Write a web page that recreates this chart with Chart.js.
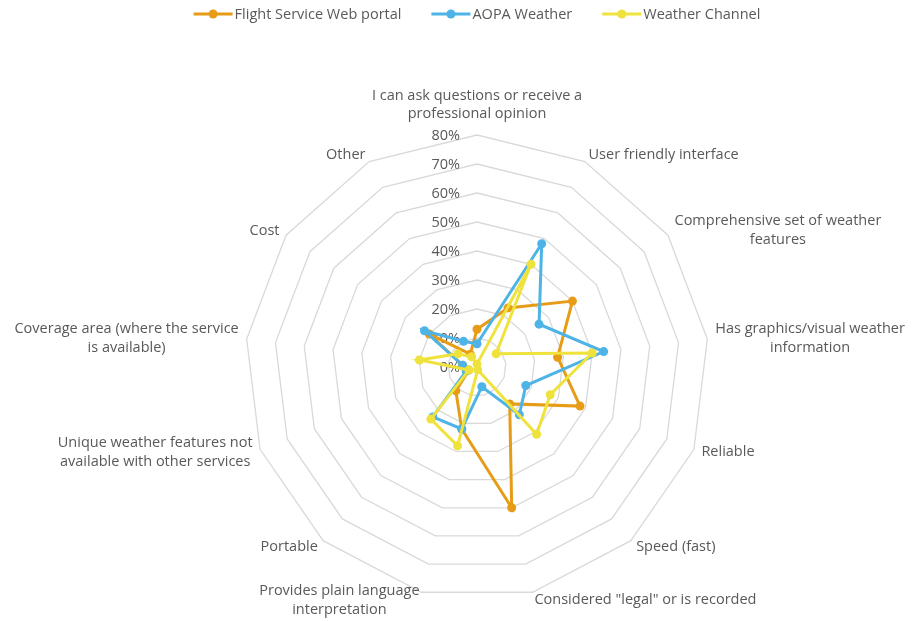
<!DOCTYPE html>
<html>
<head>
<meta charset="utf-8">
<title>Weather service ratings</title>
<script src="https://cdn.jsdelivr.net/npm/chart.js@4.4.0/dist/chart.umd.min.js"></script>
<style>
  html, body { margin: 0; padding: 0; background: #ffffff; }
</style>
</head>
<body>
<canvas id="chart" width="921" height="621"></canvas>
<script>
// axes of the radar (clockwise from the top)
const categories = [
    ['I can ask questions or receive a', 'professional opinion'],
    'User friendly interface',
    ['Comprehensive set of weather', 'features'],
    ['Has graphics/visual weather', 'information'],
    'Reliable',
    'Speed (fast)',
    'Considered "legal" or is recorded',
    ['Provides plain language', 'interpretation'],
    'Portable',
    ['Unique weather features not', 'available with other services'],
    ['Coverage area (where the service', 'is available)'],
    'Cost',
    'Other'
];

// share of respondents
const flightService  = [0.13, 0.23, 0.40, 0.28, 0.38, 0.17, 0.50, 0.22, 0.11, 0.03, 0.05, 0.20, 0.05];
const aopaWeather    = [0.08, 0.48, 0.26, 0.44, 0.18, 0.22, 0.07, 0.22, 0.23, 0.04, 0.05, 0.22, 0.10];
const weatherChannel = [0.01, 0.40, 0.08, 0.40, 0.27, 0.31, 0.01, 0.28, 0.24, 0.03, 0.20, 0.08, 0.04];

const seriesNames = ['Flight Service Web portal', 'AOPA Weather', 'Weather Channel'];
const tickValues = [0, 0.1, 0.2, 0.3, 0.4, 0.5, 0.6, 0.7, 0.8];

const textColor = '#595959';
const fontFamily = "'Open Sans', 'DejaVu Sans', sans-serif";
const fontSize = 14.5;

// tick labels and axis labels, drawn under the series like Excel does
const radarText = {
    id: 'radarText',
    beforeDatasetsDraw(chart) {
        const ctx = chart.ctx;
        const scale = chart.scales.r;
        ctx.save();
        ctx.fillStyle = textColor;
        ctx.font = fontSize + 'px ' + fontFamily;

        // percentage ticks, to the left of the vertical axis
        ctx.textAlign = 'right';
        ctx.textBaseline = 'middle';
        tickValues.forEach(v => {
            const p = scale.getPointPositionForValue(0, v);
            ctx.fillText(Math.round(v * 100) + '%', p.x - 17, p.y + 1);
        });

        // category labels
        const lineH = 19;
        ctx.textAlign = 'center';
        categories.forEach((label, i) => {
            const lines = Array.isArray(label) ? label : [label];
            const p = scale.getPointPositionForValue(i, scale.max);
            const a = i * 2 * Math.PI / categories.length;
            const sin = Math.sin(a), cos = Math.cos(a);
            const blockW = Math.max(...lines.map(t => ctx.measureText(t).width));
            if (i === 0) {
                lines.forEach((t, k) => {
                    ctx.fillText(t, p.x, p.y - 21 - (lines.length - 1 - k) * 18);
                });
                return;
            }
            const xEdge = p.x + sin * 8;
            const yMid = p.y - cos * 8;
            const left = sin > 0 ? xEdge : xEdge - blockW;
            lines.forEach((t, k) => {
                ctx.fillText(t, left + blockW / 2, yMid + (k - (lines.length - 1) / 2) * lineH);
            });
        });
        ctx.restore();
    },
    afterDraw(chart) {
        // legend: line with a dot, then the name
        const ctx = chart.ctx;
        ctx.save();
        ctx.font = fontSize + 'px ' + fontFamily;
        ctx.textBaseline = 'middle';
        ctx.textAlign = 'left';
        const lineLen = 39, textGap = 2, itemGap = 30, y = 14;
        const widths = chart.data.datasets.map(ds => ctx.measureText(ds.label).width);
        let total = 0;
        widths.forEach((w, i) => { total += lineLen + textGap + w + (i < widths.length - 1 ? itemGap : 0); });
        let x = chart.scales.r.xCenter - total / 2;
        chart.data.datasets.forEach((ds, i) => {
            ctx.strokeStyle = ds.borderColor;
            ctx.fillStyle = ds.borderColor;
            ctx.lineWidth = 3;
            ctx.beginPath();
            ctx.moveTo(x, y);
            ctx.lineTo(x + lineLen, y);
            ctx.stroke();
            ctx.beginPath();
            ctx.arc(x + lineLen / 2, y, 4.5, 0, Math.PI * 2);
            ctx.fill();
            ctx.fillStyle = textColor;
            ctx.fillText(ds.label, x + lineLen + textGap, y + 1);
            x += lineLen + textGap + widths[i] + itemGap;
        });
        ctx.restore();
    }
};

function series(label, data, color, order) {
    return {
        label: label,
        data: data,
        borderColor: color,
        backgroundColor: color,
        pointBackgroundColor: color,
        pointBorderColor: color,
        borderWidth: 3,
        pointRadius: 4.5,
        pointBorderWidth: 0,
        fill: false,
        tension: 0,
        order: order
    };
}

new Chart(document.getElementById('chart'), {
    type: 'radar',
    data: {
        labels: categories,
        datasets: [
            series(seriesNames[0], flightService, '#E69C17', 2),
            series(seriesNames[1], aopaWeather, '#4EB3E6', 1),
            series(seriesNames[2], weatherChannel, '#F0E23C', 0)
        ]
    },
    options: {
        responsive: false,
        animation: false,
        devicePixelRatio: 1,
        layout: { padding: { top: 135, bottom: 22, left: 33, right: 0 } },
        scales: {
            r: {
                min: 0,
                max: 0.8,
                ticks: { stepSize: 0.1, display: false },
                grid: { color: '#D9D9D9', lineWidth: 1.3 },
                angleLines: { display: false },
                pointLabels: { display: false }
            }
        },
        plugins: {
            legend: { display: false },
            tooltip: { enabled: false }
        }
    },
    plugins: [radarText]
});
</script>
</body>
</html>
